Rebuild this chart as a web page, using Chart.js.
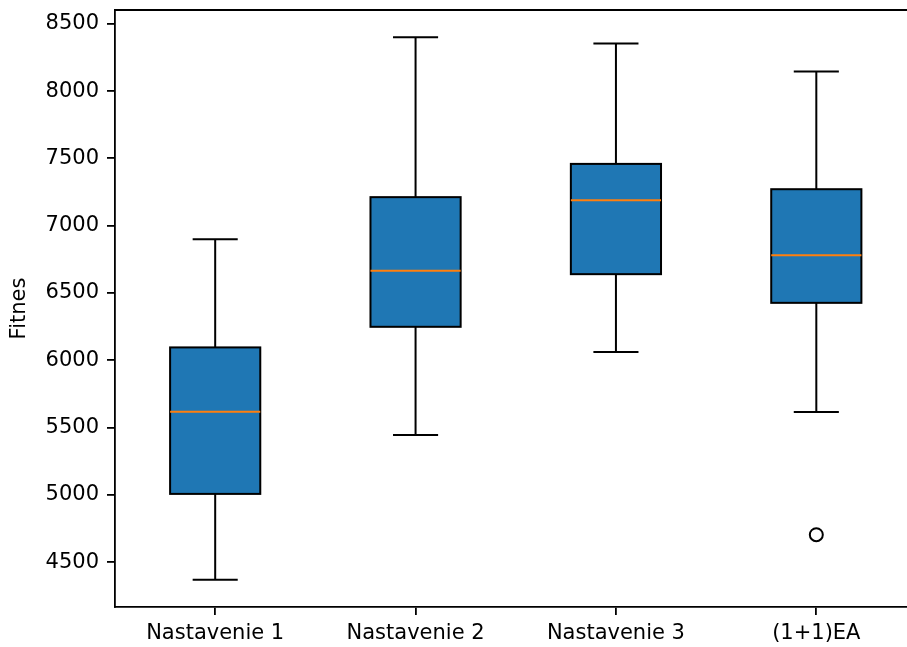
<!DOCTYPE html>
<html>
<head>
<meta charset="utf-8">
<script src="https://cdn.jsdelivr.net/npm/chart.js@4.4.0/dist/chart.umd.min.js"></script>
<style>
body{margin:0;background:#fff}
#wrap{width:907px;height:647px;overflow:hidden}
</style>
</head>
<body>
<div id="wrap"><canvas id="chart" width="925" height="647"></canvas></div>
<script>
const categories = ['Nastavenie 1', 'Nastavenie 2', 'Nastavenie 3', '(1+1)EA'];
const whiskerLow = [4370, 5446, 6062, 5616];
const q1 = [5008, 6249, 6640, 6427];
const median = [5619, 6665, 7189, 6781];
const q3 = [6096, 7212, 7459, 7271];
const whiskerHigh = [6900, 8400, 8354, 8146];
const outliers = [null, null, null, 4705];
const yTicks = [4500, 5000, 5500, 6000, 6500, 7000, 7500, 8000, 8500];

const FONT = 'DejaVu Sans';

// whiskers, caps, box outline and medians drawn on top of the bars
const boxParts = {
    id: 'boxParts',
    afterDatasetsDraw(chart) {
        const ctx = chart.ctx;
        const y = chart.scales.y;
        const bars = chart.getDatasetMeta(0).data;
        ctx.save();
        bars.forEach((bar, i) => {
            const x = bar.x;
            const half = bar.width / 2;
            const cap = half / 2;
            const top = y.getPixelForValue(q3[i]);
            const bot = y.getPixelForValue(q1[i]);
            const hi = y.getPixelForValue(whiskerHigh[i]);
            const lo = y.getPixelForValue(whiskerLow[i]);
            ctx.strokeStyle = '#000';
            ctx.lineWidth = 2;
            ctx.beginPath();
            ctx.moveTo(x, top); ctx.lineTo(x, hi);
            ctx.moveTo(x, bot); ctx.lineTo(x, lo);
            ctx.moveTo(x - cap, hi); ctx.lineTo(x + cap, hi);
            ctx.moveTo(x - cap, lo); ctx.lineTo(x + cap, lo);
            ctx.stroke();
            ctx.strokeRect(x - half, top, 2 * half, bot - top);
            const m = y.getPixelForValue(median[i]);
            ctx.strokeStyle = '#ff7f0e';
            ctx.beginPath();
            ctx.moveTo(x - half, m); ctx.lineTo(x + half, m);
            ctx.stroke();
        });
        // top spine
        const a = chart.chartArea;
        ctx.strokeStyle = '#000';
        ctx.lineWidth = 1.8;
        ctx.beginPath();
        ctx.moveTo(a.left - 0.9, a.top);
        ctx.lineTo(a.right, a.top);
        ctx.stroke();
        ctx.restore();
    }
};

new Chart('chart', {
    type: 'bar',
    data: {
        labels: categories,
        datasets: [
            {
                data: categories.map((c, i) => [q1[i], q3[i]]),
                backgroundColor: '#1f77b4',
                borderWidth: 0,
                categoryPercentage: 1,
                barPercentage: 0.45
            },
            {
                type: 'line',
                data: outliers,
                showLine: false,
                pointRadius: 6.5,
                pointBorderWidth: 2,
                pointBorderColor: '#000',
                pointBackgroundColor: '#fff'
            }
        ]
    },
    options: {
        responsive: false,
        animation: false,
        devicePixelRatio: 1,
        layout: { padding: { top: 10, right: 7, left: 0, bottom: 0 } },
        plugins: { legend: { display: false }, tooltip: { enabled: false } },
        scales: {
            x: {
                grid: { offset: false, drawOnChartArea: false, tickLength: 8, color: '#000', lineWidth: 1.8 },
                border: { color: '#000', width: 1.8 },
                ticks: { color: '#000', padding: 6, maxRotation: 0, font: { family: FONT, size: 21 } },
                afterFit(scale) {
                    scale.height = 40;
                    scale.paddingLeft = 0;
                    scale.paddingRight = 0;
                }
            },
            y: {
                min: 4168,
                max: 8602,
                grid: { drawOnChartArea: false, tickLength: 8, color: '#000', lineWidth: 1.8 },
                border: { color: '#000', width: 1.8 },
                ticks: { color: '#000', padding: 8, font: { family: FONT, size: 21 }, callback: v => String(v) },
                title: { display: true, text: 'Fitnes', color: '#000', padding: { top: 7, bottom: 0 }, font: { family: FONT, size: 21 } },
                afterBuildTicks(scale) {
                    scale.ticks = yTicks.map(v => ({ value: v }));
                },
                afterFit(scale) {
                    scale.width = 115;
                    scale.paddingTop = 0;
                    scale.paddingBottom = 0;
                }
            }
        }
    },
    plugins: [boxParts]
});
</script>
</body>
</html>
